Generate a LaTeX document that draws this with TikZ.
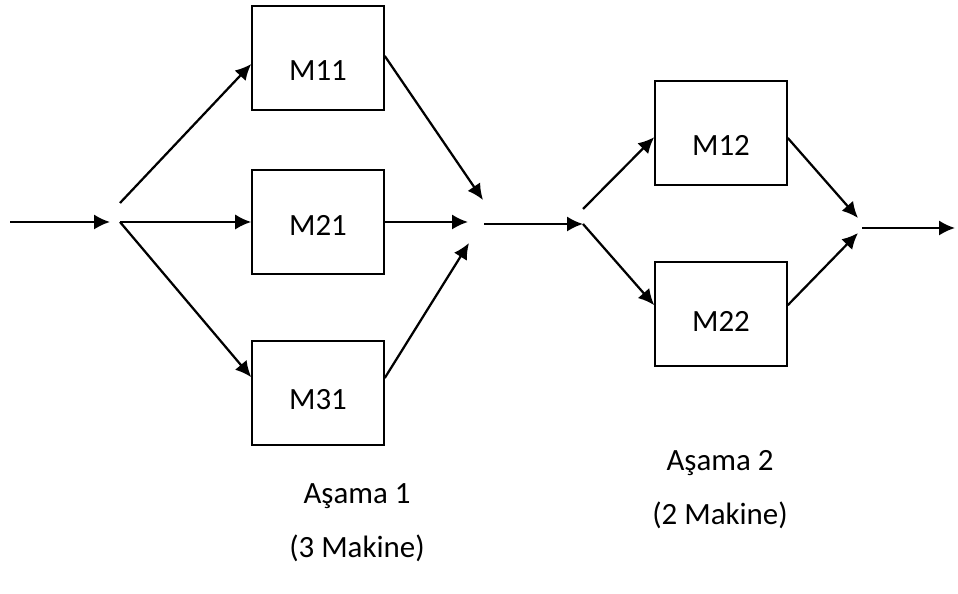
\documentclass[tikz,border=0pt]{standalone}
\usepackage{fontspec}
\setmainfont{Carlito}
\usetikzlibrary{arrows.meta}

\begin{document}
\begin{tikzpicture}[
  machine/.style={draw,line width=1.1pt,minimum width=3.3cm,minimum height=2.6cm,
    text height=#1,text depth=0cm,font=\fontsize{22}{26}\selectfont},
  machine/.default=0.9cm,
  flow/.style={line width=1.6pt,-{Latex[length=0.4cm,width=0.38cm]}},
  caption/.style={font=\fontsize{22}{26}\selectfont}]
\useasboundingbox (0,0) rectangle (23.95,14.85);
% stage 1 machines
\node[machine=1.15cm] (M11) at (7.95,13.4) {M11};
\node[machine=0.7cm] (M21) at (7.95,9.3) {M21};
\node[machine=0.8cm] (M31) at (7.95,5.02) {M31};
% stage 2 machines
\node[machine=1.1cm] (M12) at (18.025,11.52) {M12};
\node[machine] (M22) at (18.025,7.0) {M22};
% junction points
\coordinate (in) at (0.25,9.3);
\coordinate (split1) at (2.75,9.3);
\coordinate (fork1) at (3.0,9.3);
\coordinate (fork1top) at (3.0,9.775);
\coordinate (join1a) at (12.075,9.85);
\coordinate (join1b) at (11.7,9.3);
\coordinate (join1c) at (11.725,8.775);
\coordinate (mid) at (12.1,9.25);
\coordinate (fork2) at (14.575,9.25);
\coordinate (fork2top) at (14.575,9.625);
\coordinate (join2a) at (21.45,9.4);
\coordinate (join2b) at (21.45,9.025);
\coordinate (out) at (21.55,9.15);
\coordinate (end) at (23.875,9.15);
% incoming flow
\draw[flow] (in) -- (split1);
\draw[flow] (fork1top) -- ([yshift=-0.15cm]M11.west);
\draw[flow] (fork1) -- (M21.west);
\draw[flow] (fork1) -- ([yshift=0.4cm]M31.west);
% out of stage 1
\draw[flow] ([yshift=0.05cm]M11.east) -- (join1a);
\draw[flow] (M21.east) -- (join1b);
\draw[flow] ([yshift=0.38cm]M31.east) -- (join1c);
\draw[flow] (mid) -- (fork2);
% stage 2
\draw[flow] (fork2top) -- ([yshift=-0.1cm]M12.west);
\draw[flow] (fork2) -- ([yshift=0.22cm]M22.west);
\draw[flow] ([yshift=-0.12cm]M12.east) -- (join2a);
\draw[flow] ([yshift=0.22cm]M22.east) -- (join2b);
\draw[flow] (out) -- (end);
% captions
\node[caption] (s1) at (8.925,2.45) {Aşama 1};
\node[caption] (s1n) at (8.925,1.15) {(3 Makine)};
\node[caption] (s2) at (18.0,3.275) {Aşama 2};
\node[caption] (s2n) at (18.0,1.975) {(2 Makine)};
\end{tikzpicture}
\end{document}
